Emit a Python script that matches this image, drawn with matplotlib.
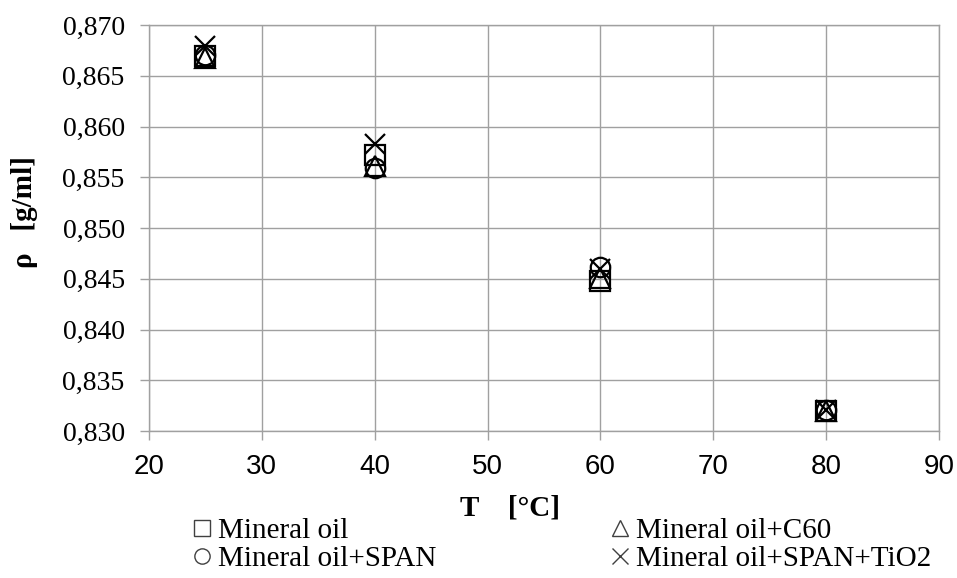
import matplotlib
matplotlib.use("Agg")
import matplotlib.pyplot as plt
from matplotlib.lines import Line2D

T = [25, 40, 60, 80]
mineral_oil = [0.8669, 0.8572, 0.8448, 0.8320]
mineral_oil_c60 = [0.8667, 0.8561, 0.8451, 0.8320]
mineral_oil_span = [0.8670, 0.8559, 0.8462, 0.8321]
mineral_oil_span_tio2 = [0.8679, 0.8583, 0.8460, 0.8321]

labels = ["Mineral oil", "Mineral oil+C60", "Mineral oil+SPAN", "Mineral oil+SPAN+TiO2"]
series = [mineral_oil, mineral_oil_c60, mineral_oil_span, mineral_oil_span_tio2]
markers = ["s", "^", "o", "x"]

xticks = [20, 30, 40, 50, 60, 70, 80, 90]
yticks = [0.830, 0.835, 0.840, 0.845, 0.850, 0.855, 0.860, 0.865, 0.870]

W, H = 957, 578
fig = plt.figure(figsize=(W / 100, H / 100), dpi=100)
ax = fig.add_axes([149 / W, 1 - 431 / H, (939 - 149) / W, (431 - 25) / H])

for y, m in zip(series, markers):
    ax.plot(T, y, linestyle="none", marker=m, markersize=14 if m != "x" else 15,
            markerfacecolor="none", markeredgecolor="black", markeredgewidth=1.6, zorder=3)

ax.set_xlim(20, 90)
ax.set_ylim(0.830, 0.870)
ax.set_xticks(xticks)
ax.set_yticks(yticks)
ax.set_yticklabels([f"{v:.3f}".replace(".", ",") for v in yticks],
                   fontfamily="Liberation Serif", fontsize=20)
ax.set_xticklabels([str(v) for v in xticks], fontfamily="Liberation Sans", fontsize=20)
ax.grid(True, color="#a0a0a0", linewidth=1.0)
for s in ax.spines.values():
    s.set_color("#a0a0a0")
    s.set_linewidth(1.0)
ax.tick_params(axis="both", color="#a0a0a0", length=6.5, width=1.0)
ax.tick_params(axis="y", pad=11)
ax.tick_params(axis="x", pad=10)
ax.set_axisbelow(True)

fig.text(25 / W, 1 - 212 / H, "ρ   [g/ml]", rotation=90, ha="center", va="center",
         fontfamily="Liberation Serif", fontweight="bold", fontsize=21)
fig.text(510 / W, 1 - 508 / H, "T    [°C]", ha="center", va="center",
         fontfamily="Liberation Serif", fontweight="bold", fontsize=21)

order = [0, 2, 1, 3]
handles = [Line2D([], [], linestyle="none", marker=markers[i],
                  markersize=11 if markers[i] != "x" else 12,
                  markerfacecolor="none", markeredgecolor="#404040", markeredgewidth=1.0)
           for i in order]
leg = fig.legend(handles, [labels[i] for i in order], ncol=2, loc="upper left",
                 bbox_to_anchor=(193 / W, 1 - 518 / H),
                 frameon=False, prop={"family": "Liberation Serif", "size": 21},
                 handlelength=0.6, handletextpad=0.25, columnspacing=6.0,
                 labelspacing=0.05, borderpad=0.0, borderaxespad=0.0)

fig.savefig("out.png", dpi=100)
